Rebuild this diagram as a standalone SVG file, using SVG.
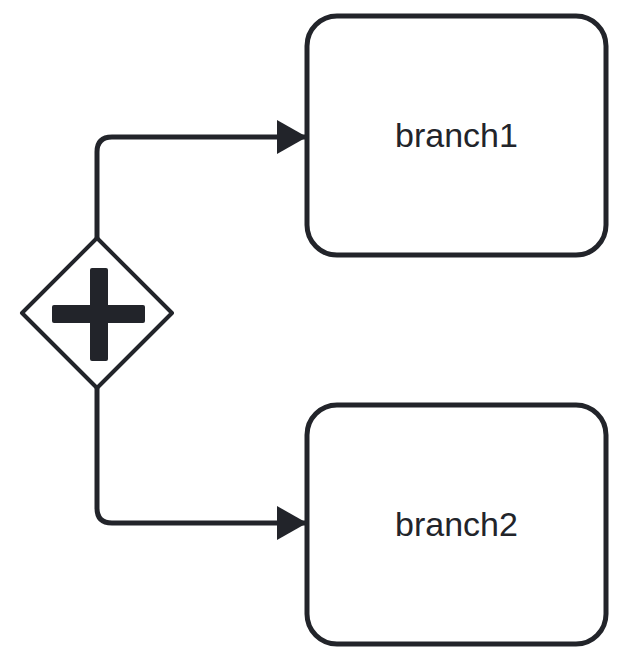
<svg xmlns="http://www.w3.org/2000/svg" width="621" height="660" viewBox="0 0 621 660">
<defs>
<marker id="arrow" viewBox="0 0 30 34" refX="30" refY="17" markerWidth="30" markerHeight="34" markerUnits="userSpaceOnUse" orient="auto">
<path d="M0,0 L30,17 L0,34 Z" fill="#22242a"/>
</marker>
<style>
.task{fill:#fff;stroke:#22242a;stroke-width:5}
.lbl{font-family:"Liberation Sans",Arial,sans-serif;font-size:34px;fill:#22242a;text-anchor:middle}
.flow{fill:none;stroke:#22242a;stroke-width:5}
</style>
</defs>
<rect width="621" height="660" fill="#fff"/>
<g id="connectors">
<path class="flow" d="M97,238 V152 Q97,137 112,137 H307" marker-end="url(#arrow)"/>
<path class="flow" d="M97,388 V508 Q97,523 112,523 H307" marker-end="url(#arrow)"/>
</g>
<g id="gateway">
<polygon points="97,238 172,313 97,388 22,313" fill="#fff" stroke="#22242a" stroke-width="4" stroke-linejoin="round"/>
<rect x="52" y="305" width="93" height="18" rx="2" fill="#22242a"/>
<rect x="90" y="268" width="18" height="93" rx="2" fill="#22242a"/>
</g>
<g id="branch1">
<rect class="task" x="307" y="16" width="299" height="239" rx="30"/>
<text class="lbl" x="456.5" y="147">branch1</text>
</g>
<g id="branch2">
<rect class="task" x="307" y="405" width="299" height="239" rx="30"/>
<text class="lbl" x="456.5" y="536">branch2</text>
</g>
</svg>
